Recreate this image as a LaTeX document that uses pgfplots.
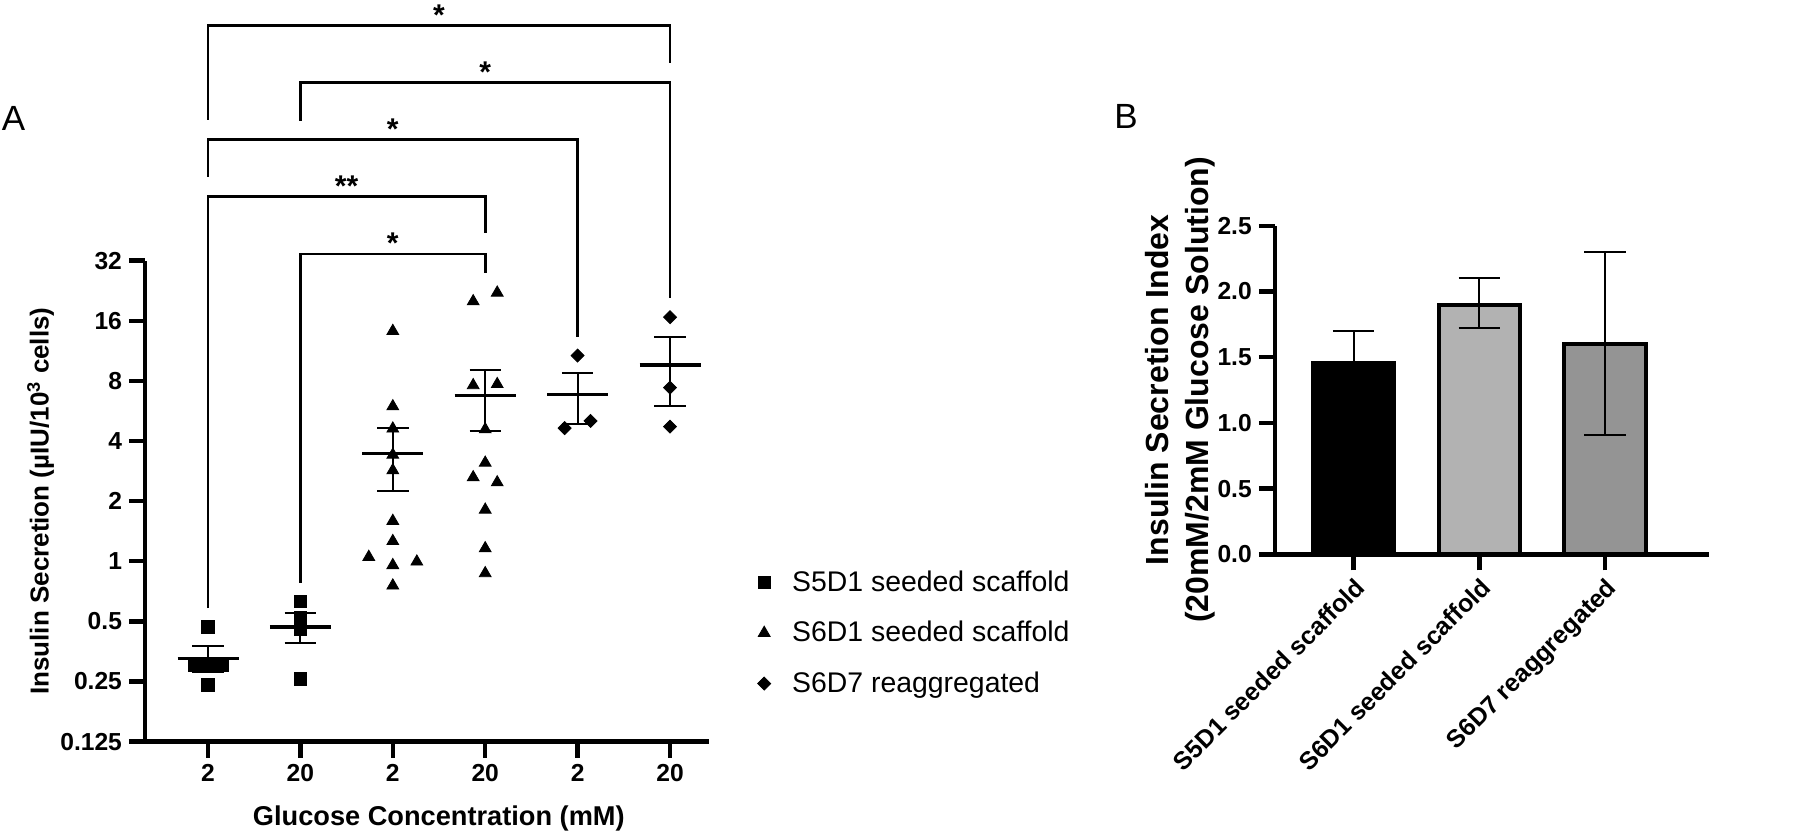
\documentclass[border=0pt]{standalone}
\usepackage{fontspec}
\setmainfont{Liberation Sans}
\usepackage{pgfplots}
\pgfplotsset{compat=1.18}
\definecolor{barlight}{RGB}{178,178,178}
\definecolor{bardark}{RGB}{148,148,148}
\pgfplotsset{
  meanline/.style={black, line width=1.6pt, mark=none, forget plot},
  semline/.style={black, line width=1pt, mark=none, forget plot},
  brk/.style={black, line width=1.35pt, mark=none, forget plot},
}
\begin{document}
\begin{tikzpicture}
\useasboundingbox (0pt,0pt) rectangle (908.5pt,416pt);
\node[anchor=base west, inner sep=0pt, font=\fontsize{17.5}{20}\selectfont] at (0.8pt,350.5pt) {A};
\node[anchor=base west, inner sep=0pt, font=\fontsize{17.5}{20}\selectfont] at (557pt,351.5pt) {B};

\begin{axis}[
  at={(72.5pt,45.2pt)}, anchor=south west, scale only axis,
  width=282pt, height=240.5pt,
  xmin=-0.682, xmax=5.422,
  ymode=log, log basis y=2, ymin=0.125, ymax=32,
  axis x line=bottom, axis y line=left,
  axis line style={line width=2.2pt, -},
  tick style={black, line width=2.2pt},
  major tick length=8pt, tick align=outside,
  xtick={0,1,2,3,4,5}, xticklabels={2,20,2,20,2,20},
  ytick={0.125,0.25,0.5,1,2,4,8,16,32},
  yticklabels={0.125,0.25,0.5,1,2,4,8,16,32},
  ticklabel style={font=\fontsize{12.3}{14}\selectfont\bfseries},
  xlabel={Glucose Concentration (mM)},
  xlabel style={at={(axis description cs:0.521,-0.16)}, anchor=center, font=\fontsize{13.6}{15}\selectfont\bfseries},
  ylabel={Insulin Secretion (µIU/10\textsuperscript{3} cells)},
  ylabel style={at={(axis description cs:-0.185,0.5)}, anchor=center, font=\fontsize{13}{15}\selectfont\bfseries},
  clip=false,
  legend style={at={(axis description cs:1.075,0.373)}, anchor=north west, draw=none, fill=none,
    font=\fontsize{14.2}{16}\selectfont, row sep=9.5pt},
  legend cell align=left,
  legend image code/.code={\path[draw=none, fill=none] (-3pt,0pt) rectangle (12pt,0.1pt); \draw[#1] plot coordinates {(0pt,0pt)};},
]
% scatter points
\addplot[only marks, mark=square*, mark size=3.1pt, black] coordinates {
 (-0.15,0.302) (0,0.302) (0.15,0.302) (0,0.470) (0,0.240)
 (1,0.63) (1,0.525) (1,0.455) (1,0.257)
};
\addlegendentry{S5D1 seeded scaffold}
\addplot[only marks, mark=triangle*, mark size=3.4pt, black] coordinates {
 (2,14.2) (2,5.96) (2,4.61) (2,3.41) (2,2.85) (2,1.59) (2,1.26) (1.74,1.05) (2.26,0.995) (2,0.955) (2,0.755)
 (3.13,22.1) (2.87,20.0) (2.87,7.6) (3.13,7.7) (3,4.57) (3,3.11) (2.87,2.63) (3.13,2.48) (3,1.81) (3,1.16) (3,0.87)
};
\addlegendentry{S6D1 seeded scaffold}
\addplot[only marks, mark=square*, mark options={rotate=45}, mark size=2.3pt, black] coordinates {
 (4,10.71) (3.86,4.64) (4.14,5.04)
 (5,16.67) (5,7.40) (5,4.72)
};
\addlegendentry{S6D7 reaggregated}
% mean and SEM
\addplot[meanline] coordinates {(-0.33,0.326) (0.33,0.326)};
\addplot[semline] coordinates {(0,0.279) (0,0.375)};
\addplot[semline] coordinates {(-0.17,0.375) (0.17,0.375)};
\addplot[semline] coordinates {(-0.17,0.279) (0.17,0.279)};
\addplot[meanline] coordinates {(0.67,0.468) (1.33,0.468)};
\addplot[semline] coordinates {(1,0.389) (1,0.550)};
\addplot[semline] coordinates {(0.83,0.550) (1.17,0.550)};
\addplot[semline] coordinates {(0.83,0.389) (1.17,0.389)};
\addplot[meanline] coordinates {(1.67,3.45) (2.33,3.45)};
\addplot[semline] coordinates {(2,2.25) (2,4.65)};
\addplot[semline] coordinates {(1.83,4.65) (2.17,4.65)};
\addplot[semline] coordinates {(1.83,2.25) (2.17,2.25)};
\addplot[meanline] coordinates {(2.67,6.78) (3.33,6.78)};
\addplot[semline] coordinates {(3,4.48) (3,9.05)};
\addplot[semline] coordinates {(2.83,9.05) (3.17,9.05)};
\addplot[semline] coordinates {(2.83,4.48) (3.17,4.48)};
\addplot[meanline] coordinates {(3.67,6.83) (4.33,6.83)};
\addplot[semline] coordinates {(4,4.87) (4,8.78)};
\addplot[semline] coordinates {(3.83,8.78) (4.17,8.78)};
\addplot[semline] coordinates {(3.83,4.87) (4.17,4.87)};
\addplot[meanline] coordinates {(4.67,9.60) (5.33,9.60)};
\addplot[semline] coordinates {(5,6.0) (5,13.2)};
\addplot[semline] coordinates {(4.83,13.2) (5.17,13.2)};
\addplot[semline] coordinates {(4.83,6.0) (5.17,6.0)};
% significance brackets
\addplot[brk] coordinates {(0,162.2) (0,479.7) (5,479.7) (5,312.0)};
\addplot[brk] coordinates {(1,160.9) (1,249.3) (5,249.3) (5,20.75)};
\addplot[brk] coordinates {(0,84.3) (0,128.8) (4,128.8) (4,13.32)};
\addplot[brk] coordinates {(0,0.5818) (0,67.0) (3,67.0) (3,43.9)};
\addplot[brk] coordinates {(1,0.781) (1,34.58) (3,34.58) (3,27.69)};
\node[anchor=base, inner sep=0pt, font=\fontsize{15}{15}\selectfont\bfseries] at (axis cs:2.5,479.7) {*};
\node[anchor=base, inner sep=0pt, font=\fontsize{15}{15}\selectfont\bfseries] at (axis cs:3,249.3) {*};
\node[anchor=base, inner sep=0pt, font=\fontsize{15}{15}\selectfont\bfseries] at (axis cs:2,128.8) {*};
\node[anchor=base, inner sep=0pt, font=\fontsize{15}{15}\selectfont\bfseries] at (axis cs:1.5,67.0) {**};
\node[anchor=base, inner sep=0pt, font=\fontsize{15}{15}\selectfont\bfseries] at (axis cs:2,34.58) {*};
\end{axis}

\begin{axis}[
  at={(637.4pt,138.85pt)}, anchor=south west, scale only axis,
  width=217.25pt, height=164.3pt,
  xmin=-0.627, xmax=2.83, ymin=0, ymax=2.5,
  axis x line=bottom, axis y line=left,
  axis line style={line width=2.2pt, -},
  tick style={black, line width=2.2pt},
  major tick length=8pt, tick align=outside,
  xtick={0,1,2}, xticklabels={S5D1 seeded scaffold,S6D1 seeded scaffold,S6D7 reaggregated},
  ytick={0,0.5,1,1.5,2,2.5}, yticklabels={0.0,0.5,1.0,1.5,2.0,2.5},
  ticklabel style={font=\fontsize{12.3}{14}\selectfont\bfseries},
  x tick label style={rotate=45, anchor=north east, inner sep=2pt, font=\fontsize{12.5}{14}\selectfont\bfseries},
  ylabel={Insulin Secretion Index\\(20mM/2mM Glucose Solution)},
  ylabel style={at={(axis description cs:-0.218,0.5)}, anchor=center, align=center, font=\fontsize{16}{20.3}\selectfont\bfseries},
  bar width=0.645, clip=false,
]
\addplot[ybar, bar shift=0pt, fill=black, draw=black, line width=2pt] coordinates {(0,1.455)};
\addplot[ybar, bar shift=0pt, fill=barlight, draw=black, line width=2pt] coordinates {(1,1.90)};
\addplot[ybar, bar shift=0pt, fill=bardark, draw=black, line width=2pt] coordinates {(2,1.60)};
\addplot[semline] coordinates {(0,1.21) (0,1.70)};
\addplot[semline] coordinates {(-0.165,1.70) (0.165,1.70)};
\addplot[semline] coordinates {(1,1.724) (1,2.104)};
\addplot[semline] coordinates {(0.835,2.104) (1.165,2.104)};
\addplot[semline] coordinates {(0.835,1.724) (1.165,1.724)};
\addplot[semline] coordinates {(2,0.905) (2,2.303)};
\addplot[semline] coordinates {(1.835,2.303) (2.165,2.303)};
\addplot[semline] coordinates {(1.835,0.905) (2.165,0.905)};
\end{axis}
\end{tikzpicture}
\end{document}
